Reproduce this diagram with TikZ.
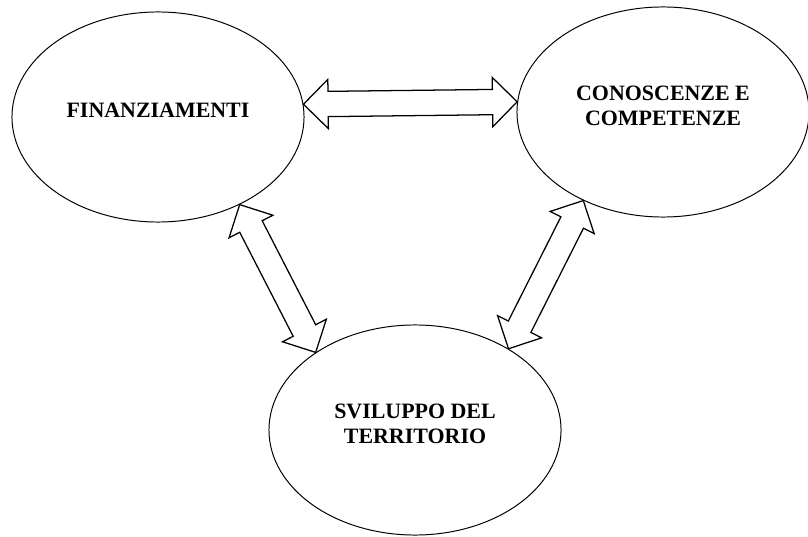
\documentclass[tikz,border=0pt]{standalone}
\usepackage{fontspec}
\setmainfont{Liberation Serif}
\usetikzlibrary{shapes.geometric,shapes.arrows,calc}

\tikzset{
  bubble/.style={draw, ellipse, line width=0.7pt, minimum width=7.3cm, minimum height=5.25cm,
    align=center, font=\bfseries\fontsize{15.6}{17.8}\selectfont, text depth=9pt},
  twoway/.style={draw, double arrow, line width=0.9pt, inner xsep=0pt, inner ysep=0.3cm,
    double arrow head extend=0.3cm, double arrow tip angle=90}
}
\newcommand{\twowaylink}[2]{%
  \path let \p1=($(#2)-(#1)$), \n1={veclen(\x1,\y1)} in
    (#1) -- (#2) node[midway, sloped, twoway, minimum height=\n1] {};}

\begin{document}
\begin{tikzpicture}[x=0.025cm, y=-0.025cm]
  \useasboundingbox (0,0) rectangle (808,537);

  \node[bubble] (fin) at (158,117) {FINANZIAMENTI};
  \node[bubble] (con) at (663,112) {CONOSCENZE E\\COMPETENZE};
  \node[bubble] (svi) at (415,430) {SVILUPPO DEL\\TERRITORIO};

  \twowaylink{fin.5.5}{con.176.5}
  \twowaylink{fin.-47}{svi.142}
  \twowaylink{con.228}{svi.41}
\end{tikzpicture}
\end{document}
